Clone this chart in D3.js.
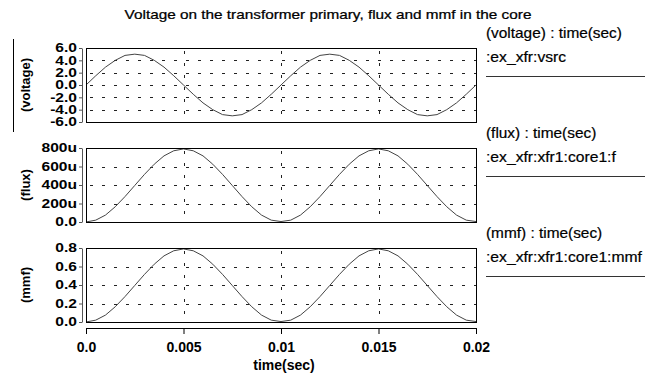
<!DOCTYPE html>
<html>
<head>
<meta charset="utf-8">
<script src="https://cdn.jsdelivr.net/npm/d3@7"></script>
<style>
  body { margin: 0; background: #fff; }
  svg { display: block; }
</style>
</head>
<body>
<script>
// Data (one sample every 0.5 ms)
const time = [0, 0.0005, 0.001, 0.0015, 0.002, 0.0025, 0.003, 0.0035, 0.004, 0.0045,
  0.005, 0.0055, 0.006, 0.0065, 0.007, 0.0075, 0.008, 0.0085, 0.009, 0.0095,
  0.01, 0.0105, 0.011, 0.0115, 0.012, 0.0125, 0.013, 0.0135, 0.014, 0.0145,
  0.015, 0.0155, 0.016, 0.0165, 0.017, 0.0175, 0.018, 0.0185, 0.019, 0.0195, 0.02];
const voltage = [0.0, 1.5, 2.9, 4.0, 4.8, 5.0, 4.8, 4.0, 2.9, 1.5,
  0.0, -1.5, -2.9, -4.0, -4.8, -5.0, -4.8, -4.0, -2.9, -1.5,
  0.0, 1.5, 2.9, 4.0, 4.8, 5.0, 4.8, 4.0, 2.9, 1.5,
  0.0, -1.5, -2.9, -4.0, -4.8, -5.0, -4.8, -4.0, -2.9, -1.5, 0.0];
// flux in micro-units (u)
const flux = [0, 20, 75, 165, 275, 395, 515, 625, 715, 770,
  790, 770, 715, 625, 515, 395, 275, 165, 75, 20,
  5, 20, 75, 165, 275, 395, 515, 625, 715, 770,
  790, 770, 715, 625, 515, 395, 275, 165, 75, 20, 5];
const mmf = [0, 0.02, 0.075, 0.165, 0.275, 0.395, 0.515, 0.625, 0.715, 0.77,
  0.79, 0.77, 0.715, 0.625, 0.515, 0.395, 0.275, 0.165, 0.075, 0.02,
  0.005, 0.02, 0.075, 0.165, 0.275, 0.395, 0.515, 0.625, 0.715, 0.77,
  0.79, 0.77, 0.715, 0.625, 0.515, 0.395, 0.275, 0.165, 0.075, 0.02, 0.005];

const timeTicks = [0, 0.005, 0.01, 0.015, 0.02];
const timeTickLabels = ['0.0', '0.005', '0.01', '0.015', '0.02'];
const voltageTicks = [-6, -4, -2, 0, 2, 4, 6];
const voltageTickLabels = ['-6.0', '-4.0', '-2.0', '0.0', '2.0', '4.0', '6.0'];
const fluxTicks = [0, 200, 400, 600, 800];
const fluxTickLabels = ['0.0', '200u', '400u', '600u', '800u'];
const mmfTicks = [0, 0.2, 0.4, 0.6, 0.8];
const mmfTickLabels = ['0.0', '0.2', '0.4', '0.6', '0.8'];

const title = 'Voltage on the transformer primary, flux and mmf in the core';

const panels = [
  { label: '(voltage)', values: voltage, domain: [-6, 6], ticks: voltageTicks, tickLabels: voltageTickLabels,
    legendTitle: '(voltage) : time(sec)', legendName: ':ex_xfr:vsrc' },
  { label: '(flux)', values: flux, domain: [0, 800], ticks: fluxTicks, tickLabels: fluxTickLabels,
    legendTitle: '(flux) : time(sec)', legendName: ':ex_xfr:xfr1:core1:f' },
  { label: '(mmf)', values: mmf, domain: [0, 0.8], ticks: mmfTicks, tickLabels: mmfTickLabels,
    legendTitle: '(mmf) : time(sec)', legendName: ':ex_xfr:xfr1:core1:mmf' }
];

// Layout
const width = 651;
const height = 375;
const left = 86;
const right = 476;
const panelTop = 48;
const panelHeight = 74;
const panelStep = 100;
const font = '"Liberation Sans", Arial, sans-serif';

// stretch text horizontally (reference glyphs are wider than Arial)
function stretch(sel, k) {
  sel.each(function () {
    const t = d3.select(this);
    const x = +t.attr('x') || 0;
    const y = +t.attr('y') || 0;
    t.attr('x', null).attr('y', null)
      .attr('transform', `translate(${x},${y}) scale(${k},1)`);
  });
}

const svg = d3.select('body')
  .append('svg')
  .attr('width', width)
  .attr('height', height);

svg.append('rect').attr('width', width).attr('height', height).attr('fill', '#fff');

// Title
svg.append('text')
  .attr('x', 328)
  .attr('y', 19)
  .attr('text-anchor', 'middle')
  .attr('font-family', font)
  .attr('font-size', 13)
  .attr('fill', '#000')
  .attr('stroke', '#000')
  .attr('stroke-width', 0.25)
  .text(title)
  .call(stretch, 1.18);

// Little marker line on the left
svg.append('line')
  .attr('x1', 13.5).attr('x2', 13.5)
  .attr('y1', 39).attr('y2', 132)
  .attr('stroke', '#000');

const x = d3.scaleLinear().domain([0, 0.02]).range([left, right]);

panels.forEach((p, i) => {
  const top = panelTop + i * panelStep;
  const bottom = top + panelHeight;
  const y = d3.scaleLinear().domain(p.domain).range([bottom, top]);
  const g = svg.append('g');

  // Horizontal grid (inner ticks only)
  g.append('g')
    .selectAll('line')
    .data(p.ticks.slice(1, -1))
    .join('line')
    .attr('x1', left + 4).attr('x2', right)
    .attr('y1', d => Math.round(y(d)) + 0.5)
    .attr('y2', d => Math.round(y(d)) + 0.5)
    .attr('stroke', '#222')
    .attr('stroke-dasharray', '3,9');

  // Vertical grid
  g.append('g')
    .selectAll('line')
    .data(timeTicks.slice(1, -1))
    .join('line')
    .attr('x1', d => Math.round(x(d)) + 0.5)
    .attr('x2', d => Math.round(x(d)) + 0.5)
    .attr('y1', top + 3).attr('y2', bottom)
    .attr('stroke', '#222')
    .attr('stroke-dasharray', '3,9');

  // Curve
  const line = d3.line()
    .x((d, j) => x(time[j]))
    .y(d => y(d));
  g.append('path')
    .datum(p.values)
    .attr('d', line)
    .attr('fill', 'none')
    .attr('stroke', '#444')
    .attr('stroke-width', 1);

  // Box
  g.append('rect')
    .attr('x', left + 0.5).attr('y', top + 0.5)
    .attr('width', right - left).attr('height', panelHeight)
    .attr('fill', 'none')
    .attr('stroke', '#000');

  // Y axis
  const axis = g.append('g')
    .attr('transform', 'translate(82,0)')
    .call(d3.axisLeft(y)
      .tickValues(p.ticks)
      .tickFormat((d, j) => p.tickLabels[j])
      .tickSize(3)
      .tickSizeOuter(0)
      .tickPadding(2));
  axis.selectAll('path, line').attr('stroke', '#555');
  axis.selectAll('text')
    .attr('font-family', font)
    .attr('font-size', 12)
    .attr('font-weight', 'bold')
    .attr('fill', '#000')
    .call(stretch, 1.3);

  // Y label
  g.append('text')
    .attr('transform', `translate(30,${(top + bottom) / 2}) rotate(-90)`)
    .attr('text-anchor', 'middle')
    .attr('font-family', font)
    .attr('font-size', 13)
    .attr('font-weight', 'bold')
    .text(p.label);

  // Legend on the right
  g.append('text')
    .attr('x', 486).attr('y', top - 10)
    .attr('font-family', font)
    .attr('font-size', 14)
    .attr('stroke', '#000')
    .attr('stroke-width', 0.2)
    .text(p.legendTitle)
    .call(stretch, 1.1);
  g.append('text')
    .attr('x', 486).attr('y', top + 14)
    .attr('font-family', font)
    .attr('font-size', 14)
    .attr('stroke', '#000')
    .attr('stroke-width', 0.2)
    .text(p.legendName)
    .call(stretch, 1.12);
  g.append('line')
    .attr('x1', 486).attr('x2', 645)
    .attr('y1', top + 28.5).attr('y2', top + 28.5)
    .attr('stroke', '#333');
});

// X axis
const xAxis = svg.append('g')
  .attr('transform', 'translate(0,328)')
  .call(d3.axisBottom(x)
    .tickValues(timeTicks)
    .tickFormat((d, j) => timeTickLabels[j])
    .tickSize(6)
    .tickSizeOuter(0)
    .tickPadding(8));
xAxis.selectAll('path, line').attr('stroke', '#000');
xAxis.selectAll('text')
  .attr('font-family', font)
  .attr('font-size', 14)
  .attr('font-weight', 'bold')
  .attr('fill', '#000');

svg.append('text')
  .attr('x', 284).attr('y', 370)
  .attr('text-anchor', 'middle')
  .attr('font-family', font)
  .attr('font-size', 14)
  .attr('font-weight', 'bold')
  .text('time(sec)');
</script>
</body>
</html>
